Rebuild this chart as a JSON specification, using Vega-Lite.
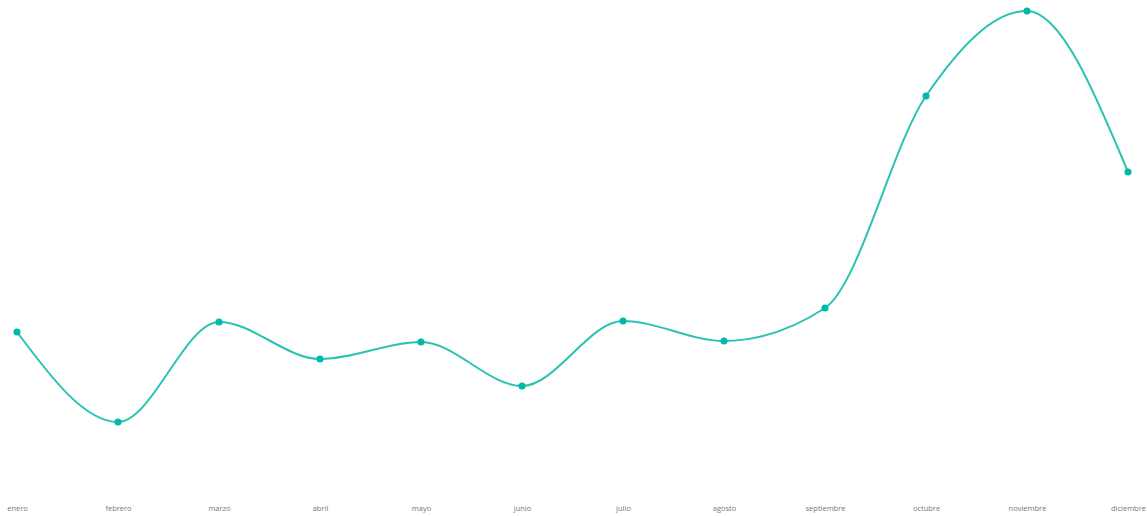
{
  "$schema": "https://vega.github.io/schema/vega-lite/v6.json",
  "width": 1111,
  "height": 500,
  "autosize": {"type": "none"},
  "padding": {"left": 17, "top": 0, "right": 19, "bottom": 16},
  "background": "white",
  "config": {"view": {"stroke": null}},
  "data": {"values": [
    {"mes": "enero", "valor": 168},
    {"mes": "febrero", "valor": 78},
    {"mes": "marzo", "valor": 178},
    {"mes": "abril", "valor": 141},
    {"mes": "mayo", "valor": 158},
    {"mes": "junio", "valor": 114},
    {"mes": "julio", "valor": 179},
    {"mes": "agosto", "valor": 159},
    {"mes": "septiembre", "valor": 192},
    {"mes": "octubre", "valor": 404},
    {"mes": "noviembre", "valor": 489},
    {"mes": "diciembre", "valor": 328}
  ]},
  "encoding": {
    "x": {"field": "mes", "type": "ordinal", "sort": null,
      "scale": {"type": "point", "padding": 0},
      "axis": {"title": null, "domain": false, "ticks": false, "labelAngle": 0, "labelPadding": 4, "labelFont": "Open Sans", "labelFontSize": 7.5, "labelColor": "#777777", "grid": false}},
    "y": {"field": "valor", "type": "quantitative", "scale": {"domain": [0, 500], "nice": false, "zero": true}, "axis": null}
  },
  "layer": [
    {"mark": {"type": "line", "interpolate": "monotone", "color": "#2BC2B3", "strokeWidth": 2}},
    {"mark": {"type": "point", "filled": true, "color": "#01B8AA", "size": 50, "opacity": 1}}
  ]
}
